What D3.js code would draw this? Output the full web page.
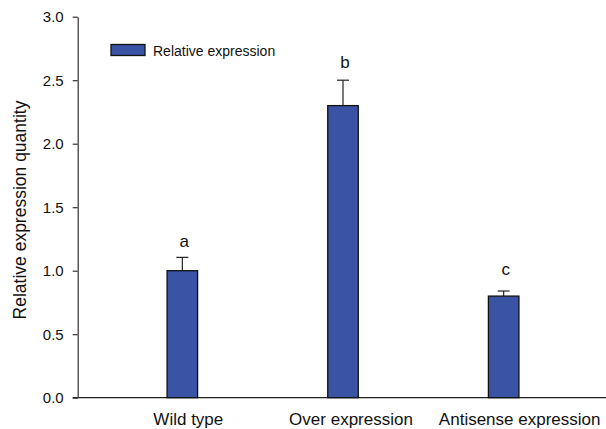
<!DOCTYPE html>
<html>
<head>
<meta charset="utf-8">
<script src="https://cdn.jsdelivr.net/npm/d3@7"></script>
<style>
  html, body { margin: 0; padding: 0; background: #fff; }
  svg { display: block; font-family: "Liberation Sans", Arial, sans-serif; }
</style>
</head>
<body>
<script>
// ---- data ----
const categories = ["Wild type", "Over expression", "Antisense expression"];
const values = [1.0, 2.3, 0.8];
const errors = [0.105, 0.2, 0.04];
const letters = ["a", "b", "c"];
const letterValues = [1.19, 2.6, 0.97];
const yTicks = [0, 0.5, 1.0, 1.5, 2.0, 2.5, 3.0];
const seriesName = "Relative expression";
const yTitle = "Relative expression quantity";
// label horizontal nudges (style)
const labelDx = [6, 8, 16];

const W = 606, H = 429;
const axisX = 77.7, yTop = 16.7, yBottom = 397.7;
const barColor = "#3A53A4";

const svg = d3.select("body").append("svg").attr("width", W).attr("height", H);
svg.append("rect").attr("width", W).attr("height", H).attr("fill", "#fff");

const y = d3.scaleLinear().domain([0, 3]).range([yBottom, yTop]);
const x = d3.scaleBand().domain(categories).range([102, 584])
  .paddingInner(0.81).paddingOuter(0.405);

// x baseline
svg.append("line")
  .attr("x1", axisX - 5).attr("x2", W)
  .attr("y1", y(0)).attr("y2", y(0))
  .attr("stroke", "#222").attr("stroke-width", 1.2);

// y axis
const yAxis = d3.axisLeft(y).tickValues(yTicks).tickFormat(d3.format(".1f"))
  .tickSize(5).tickPadding(9).tickSizeOuter(0);
const gy = svg.append("g").attr("transform", `translate(${axisX},0)`).call(yAxis);
gy.select(".domain").attr("stroke", "#333").attr("stroke-width", 1.2);
gy.selectAll(".tick line").attr("stroke", "#333").attr("stroke-width", 1.2);
gy.selectAll(".tick text").attr("font-size", 15).attr("fill", "#111")
  .attr("font-family", "Liberation Sans, Arial, sans-serif");

// y title
svg.append("text")
  .attr("transform", `translate(26,210) rotate(-90)`)
  .attr("text-anchor", "middle")
  .attr("font-size", 17.5).attr("fill", "#111")
  .text(yTitle);

// error bars (upper only)
const eg = svg.append("g");
categories.forEach((c, i) => {
  const cx = x(c) + x.bandwidth() / 2;
  eg.append("line").attr("x1", cx).attr("x2", cx)
    .attr("y1", y(values[i])).attr("y2", y(values[i] + errors[i]))
    .attr("stroke", "#222").attr("stroke-width", 1.2);
  eg.append("line").attr("x1", cx - 6).attr("x2", cx + 6)
    .attr("y1", y(values[i] + errors[i])).attr("y2", y(values[i] + errors[i]))
    .attr("stroke", "#222").attr("stroke-width", 1.2);
});

// bars
svg.append("g").selectAll("rect").data(categories).join("rect")
  .attr("x", c => x(c))
  .attr("y", (c, i) => y(values[i]))
  .attr("width", x.bandwidth())
  .attr("height", (c, i) => y(0) - y(values[i]))
  .attr("fill", barColor)
  .attr("stroke", "#111").attr("stroke-width", 1.3);

// significance letters
svg.append("g").selectAll("text").data(letters).join("text")
  .attr("x", (d, i) => x(categories[i]) + x.bandwidth() / 2 + 2)
  .attr("y", (d, i) => y(letterValues[i]))
  .attr("text-anchor", "middle")
  .attr("font-size", 17).attr("fill", "#111")
  .text(d => d);

// category labels
svg.append("g").selectAll("text").data(categories).join("text")
  .attr("x", (c, i) => x(c) + x.bandwidth() / 2 + labelDx[i])
  .attr("y", 425)
  .attr("text-anchor", "middle")
  .attr("font-size", 17).attr("fill", "#111")
  .text(c => c);

// legend
const lg = svg.append("g").attr("transform", "translate(111,44.5)");
lg.append("rect").attr("width", 34).attr("height", 11)
  .attr("fill", barColor).attr("stroke", "#111").attr("stroke-width", 1.3);
lg.append("text").attr("x", 42).attr("y", 11.5)
  .attr("font-size", 14).attr("fill", "#111").text(seriesName);
</script>
</body>
</html>
